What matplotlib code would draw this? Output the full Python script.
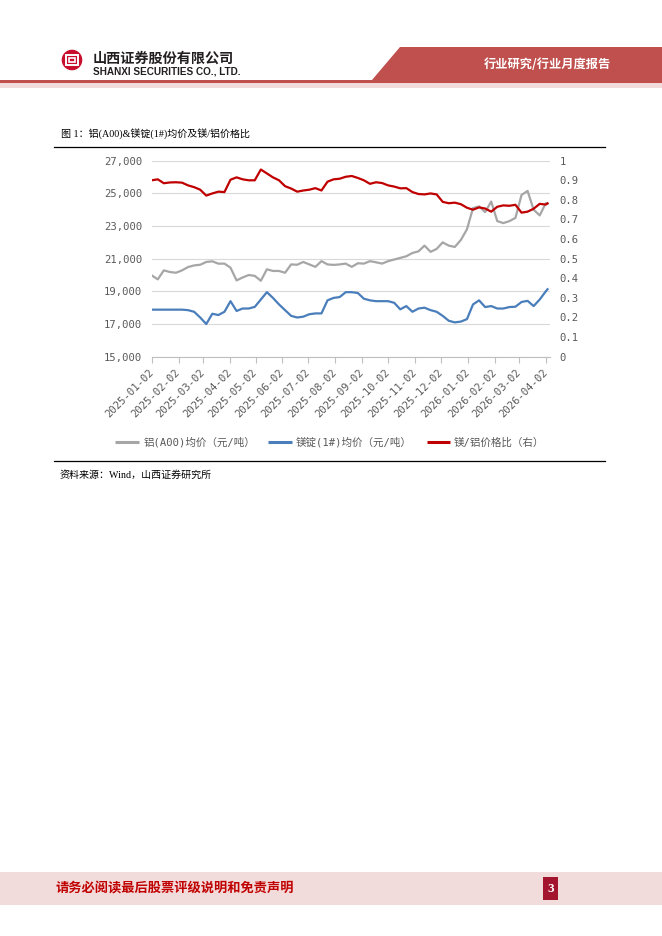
import numpy as np
import pandas as pd
import matplotlib
matplotlib.use("Agg")
import matplotlib.pyplot as plt
from matplotlib.patches import Polygon, Rectangle, Circle

plt.rcParams["font.family"] = ["Noto Sans CJK SC", "DejaVu Sans"]

# ---------------------------------------------------------------------------
# data (weekly samples)
# ---------------------------------------------------------------------------
dates = [
    "2025-01-02", "2025-01-09", "2025-01-16", "2025-01-23", "2025-01-30",
    "2025-02-06", "2025-02-13", "2025-02-20", "2025-02-27", "2025-03-06",
    "2025-03-13", "2025-03-20", "2025-03-27", "2025-04-03", "2025-04-10",
    "2025-04-17", "2025-04-24", "2025-05-01", "2025-05-08", "2025-05-15",
    "2025-05-22", "2025-05-29", "2025-06-05", "2025-06-12", "2025-06-19",
    "2025-06-26", "2025-07-03", "2025-07-10", "2025-07-17", "2025-07-24",
    "2025-07-31", "2025-08-07", "2025-08-14", "2025-08-21", "2025-08-28",
    "2025-09-04", "2025-09-11", "2025-09-18", "2025-09-25", "2025-10-02",
    "2025-10-09", "2025-10-16", "2025-10-23", "2025-10-30", "2025-11-06",
    "2025-11-13", "2025-11-20", "2025-11-27", "2025-12-04", "2025-12-11",
    "2025-12-18", "2025-12-25", "2026-01-01", "2026-01-08", "2026-01-15",
    "2026-01-22", "2026-01-29", "2026-02-05", "2026-02-12", "2026-02-19",
    "2026-02-26", "2026-03-05", "2026-03-12", "2026-03-19", "2026-03-26",
    "2026-04-02", "2026-04-04",
]

al_price = [
    19980, 19735, 20285, 20185, 20140, 20285, 20490, 20590, 20630, 20800,
    20840, 20695, 20700, 20450, 19670, 19850, 20000, 19950, 19650, 20350,
    20250, 20250, 20140, 20650, 20630, 20800, 20650, 20500, 20850, 20650,
    20620, 20650, 20700, 20500, 20720, 20700, 20850, 20780, 20700, 20850,
    20950, 21050, 21150, 21350, 21450, 21800, 21420, 21600, 22000, 21800,
    21720, 22150, 22800, 24100, 24200, 23850, 24500, 23300, 23180, 23300,
    23500, 24900, 25150, 24000, 23650, 24400, 24380,
]

mg_price = [
    17880, 17880, 17880, 17880, 17880, 17880, 17850, 17750, 17400, 17000,
    17630, 17550, 17750, 18400, 17800, 17950, 17950, 18050, 18500, 18950,
    18600, 18200, 17850, 17500, 17400, 17450, 17600, 17650, 17650, 18450,
    18600, 18650, 18950, 18950, 18900, 18550, 18450, 18400, 18400, 18400,
    18300, 17900, 18100, 17750, 17950, 18000, 17850, 17750, 17500, 17200,
    17100, 17150, 17300, 18200, 18450, 18040, 18100, 17950, 17950, 18040,
    18060, 18350, 18420, 18100, 18500, 19000, 19130,
]

mg_al_ratio = [
    0.900, 0.905, 0.885, 0.889, 0.890, 0.888, 0.874, 0.865, 0.852, 0.822,
    0.833, 0.842, 0.840, 0.903, 0.915, 0.905, 0.900, 0.900, 0.955, 0.935,
    0.915, 0.900, 0.870, 0.858, 0.842, 0.848, 0.852, 0.860, 0.848, 0.893,
    0.905, 0.908, 0.918, 0.922, 0.912, 0.900, 0.882, 0.890, 0.886, 0.874,
    0.868, 0.859, 0.860, 0.840, 0.830, 0.828, 0.833, 0.828, 0.790, 0.783,
    0.786, 0.778, 0.760, 0.750, 0.762, 0.756, 0.740, 0.765, 0.772, 0.770,
    0.775, 0.735, 0.740, 0.755, 0.780, 0.776, 0.782,
]

month_ticks = [
    "2025-01-02", "2025-02-02", "2025-03-02", "2025-04-02", "2025-05-02",
    "2025-06-02", "2025-07-02", "2025-08-02", "2025-09-02", "2025-10-02",
    "2025-11-02", "2025-12-02", "2026-01-02", "2026-02-02", "2026-03-02",
    "2026-04-02",
]

price_ticks = [15000, 17000, 19000, 21000, 23000, 25000, 27000]
ratio_ticks = [0, 0.1, 0.2, 0.3, 0.4, 0.5, 0.6, 0.7, 0.8, 0.9, 1.0]

legend_labels = ["铝(A00)均价（元/吨）", "镁锭(1#)均价（元/吨）", "镁/铝价格比（右）"]

GRAY = "#a6a6a6"
BLUE = "#4a7ebb"
RED = "#c00000"
TXT = "#595959"
MONO = ["DejaVu Sans Mono", "Noto Sans CJK SC"]
SERIF = ["Liberation Serif", "Noto Sans CJK SC"]

# ---------------------------------------------------------------------------
# page (pixel coordinates)
# ---------------------------------------------------------------------------
W, H = 662, 936
fig = plt.figure(figsize=(W / 100, H / 100), dpi=100)
page = fig.add_axes([0, 0, 1, 1])
page.set_xlim(0, W)
page.set_ylim(H, 0)
page.axis("off")

# header
page.add_patch(Polygon([(400, 46.7), (W, 46.7), (W, 80), (371.7, 80)],
                       closed=True, color="#c0504d", lw=0))
page.add_patch(Rectangle((0, 80), W, 3.4, color="#c0504d", lw=0))
page.add_patch(Rectangle((0, 83.4), W, 5, color="#f2dcdb", lw=0))
page.text(484, 65, "行业研究/行业月度报告", color="white", fontsize=8.8,
          fontweight="bold", va="center", ha="left")

page.add_patch(Circle((72, 60), 10.3, color="#c8102e", lw=0))
page.add_patch(Rectangle((66.3, 54.8), 11.4, 10.4, fill=False, ec="white", lw=1.4))
page.add_patch(Rectangle((69.4, 57.9), 5.2, 4.2, fill=False, ec="white", lw=1.2))
page.text(93, 58.3, "山西证券股份有限公司", color="#231f20", fontsize=10.2,
          fontweight="bold", va="center", ha="left")
page.text(93, 72, "SHANXI SECURITIES CO., LTD.", color="#231f20", fontsize=7.2,
          fontweight="bold", family="Liberation Sans", va="center", ha="left")

# figure title and frame lines
page.text(60.7, 134, "图 1：铝(A00)&镁锭(1#)均价及镁/铝价格比", fontsize=7.2,
          family=SERIF, va="center", ha="left", color="black")
page.plot([54, 605], [146.7, 146.7], color="black", lw=0.9)
page.plot([54, 605], [460.5, 460.5], color="black", lw=0.9)
page.text(60, 475, "资料来源：Wind，山西证券研究所", fontsize=7.2,
          family=SERIF, va="center", ha="left", color="black")

# legend drawn by hand
legend_colors = [GRAY, BLUE, RED]
legend_x = [(115, 139.3), (268.3, 291.7), (426.7, 450)]
for (x0, x1), col, lab in zip(legend_x, legend_colors, legend_labels):
    page.plot([x0, x1], [442.3, 442.3], color=col, lw=2.2, solid_capstyle="butt")
    page.text(x1 + 4, 442.3, lab, fontsize=7.6, family=MONO, color=TXT,
              va="center", ha="left")

# footer
page.add_patch(Rectangle((0, 872), W, 33, color="#f2dcdb", lw=0))
page.text(55, 888.5, "请务必阅读最后股票评级说明和免责声明", color=RED,
          fontsize=9.5, fontweight="bold", va="center", ha="left")
page.add_patch(Rectangle((543, 877), 15, 23, color="#a3142f", lw=0))
page.text(550.5, 888.5, "3", color="white", fontsize=9.5, fontweight="bold",
          family="Liberation Serif", va="center", ha="center")

# ---------------------------------------------------------------------------
# chart
# ---------------------------------------------------------------------------
ax = fig.add_axes([151.7 / W, 1 - 356.7 / H, (550.1 - 151.7) / W, 196 / H])
x = pd.to_datetime(dates)

ax.plot(x, al_price, color=GRAY, lw=1.6, zorder=3)
ax.plot(x, mg_price, color=BLUE, lw=1.6, zorder=3)

ax.set_ylim(15000, 27000)
ax.set_yticks(price_ticks)
ax.set_yticklabels([f"{v:,}" for v in price_ticks], family=MONO, fontsize=7.6,
                   color=TXT)
ax.grid(axis="y", color="#d9d9d9", lw=0.8)
ax.set_axisbelow(True)
for side in ["top", "right", "left"]:
    ax.spines[side].set_visible(False)
ax.spines["bottom"].set_color("#bfbfbf")
ax.spines["bottom"].set_linewidth(0.8)
ax.tick_params(axis="y", length=0, pad=7)

tick_pos = pd.to_datetime(month_ticks)
ax.set_xticks(tick_pos)
ax.set_xticklabels(month_ticks, rotation=45, ha="right", va="center",
                   rotation_mode="anchor", family=MONO, fontsize=7.6, color=TXT)
ax.tick_params(axis="x", length=4, width=0.8, color="#bfbfbf", pad=6)
ax.set_xlim(pd.Timestamp("2025-01-02"), pd.Timestamp("2026-04-07"))

ax2 = ax.twinx()
ax2.plot(x, mg_al_ratio, color=RED, lw=1.6, zorder=4)
ax2.set_ylim(0, 1)
ax2.set_yticks(ratio_ticks)
ax2.set_yticklabels([f"{v:g}" for v in ratio_ticks], family=MONO, fontsize=7.6,
                    color=TXT)
ax2.tick_params(axis="y", length=0, pad=7)
for side in ["top", "right", "left", "bottom"]:
    ax2.spines[side].set_visible(False)
ax2.patch.set_visible(False)

fig.savefig("out.png", dpi=100)
